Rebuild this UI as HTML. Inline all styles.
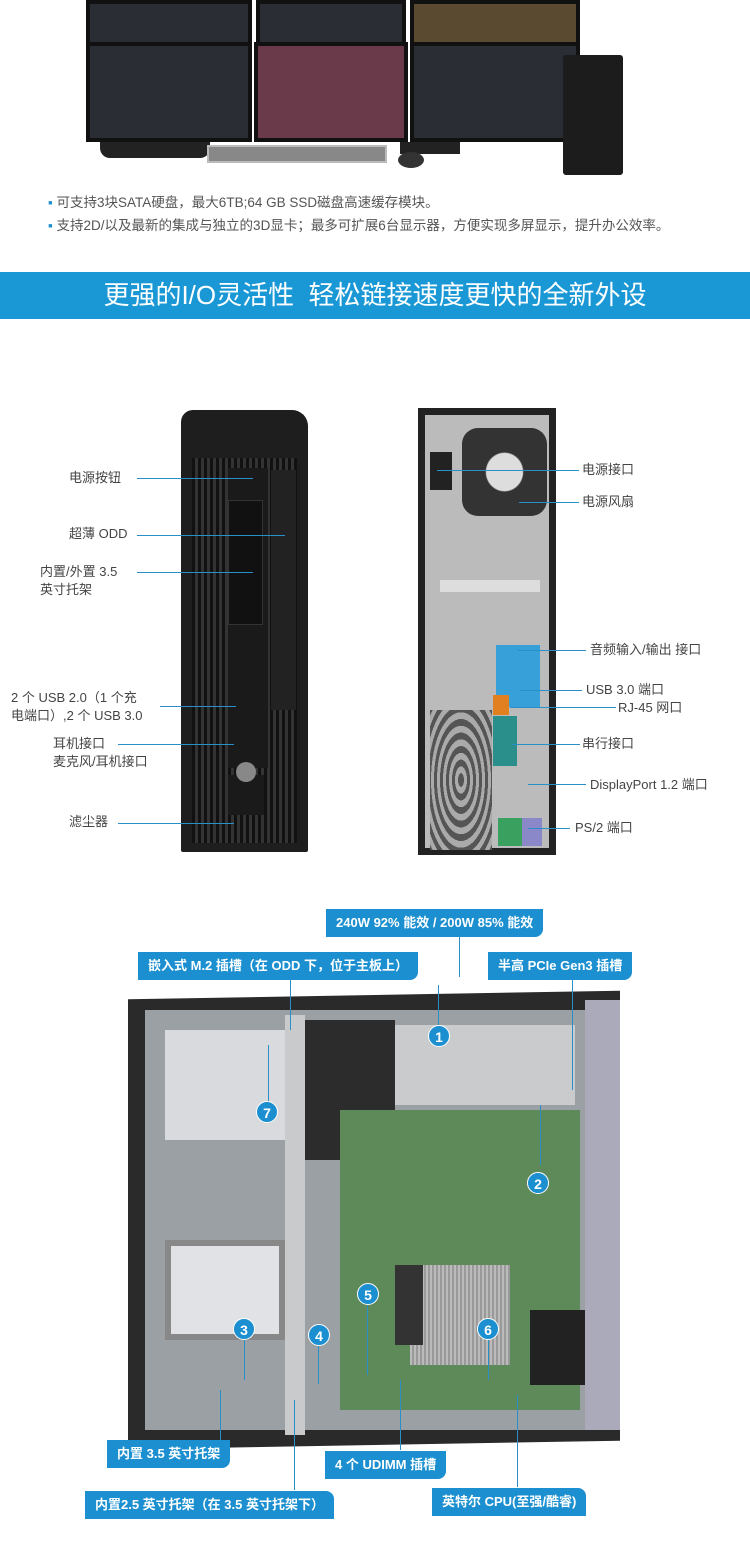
<!DOCTYPE html>
<html><head><meta charset="utf-8"><style>
*{margin:0;padding:0;box-sizing:border-box}
body{width:750px;height:1546px;background:#fff;position:relative;overflow:hidden;font-family:"Liberation Sans","Noto Sans CJK SC",sans-serif}
.a{position:absolute}
.t{position:absolute;font-size:13px;color:#444;line-height:18px;white-space:nowrap}
.l{position:absolute;height:1px;background:#2a8fc8}
.v{position:absolute;width:1px;background:#2a8fc8}
.b{position:absolute;background:#1b8fd0;color:#fff;font-size:13px;font-weight:bold;height:28px;line-height:28px;padding:0 10px;white-space:nowrap;border-radius:0 0 8px 0}
.c{position:absolute;width:22px;height:22px;border-radius:50%;background:#1b8fd0;color:#fff;font-size:14px;font-weight:bold;text-align:center;line-height:22px;border:1px solid #fff}
.scr{position:absolute;background:#2a2d33;border:4px solid #111}
</style></head><body>
<div class="scr" style="left:86px;top:0;width:166px;height:48px"></div>
<div class="scr" style="left:256px;top:0;width:150px;height:48px"></div>
<div class="scr" style="left:410px;top:0;width:170px;height:48px;background:#5a4a30"></div>
<div class="scr" style="left:86px;top:42px;width:166px;height:100px"></div>
<div class="scr" style="left:254px;top:42px;width:154px;height:100px;background:#6a3a4a"></div>
<div class="scr" style="left:410px;top:42px;width:170px;height:100px"></div>
<div class="a" style="left:100px;top:142px;width:110px;height:16px;background:#222;border-radius:0 0 10px 10px"></div>
<div class="a" style="left:400px;top:142px;width:60px;height:12px;background:#222"></div>
<div class="a" style="left:207px;top:145px;width:180px;height:18px;background:#888;border:2px solid #bbb"></div>
<div class="a" style="left:398px;top:152px;width:26px;height:16px;background:#333;border-radius:50%"></div>
<div class="a" style="left:563px;top:55px;width:60px;height:120px;background:#1c1c1c;border-radius:3px"></div>
<div class="t" style="left:48px;top:194px;font-size:13.5px;color:#555"><span style="color:#1b8fd0">▪</span> 可支持3块SATA硬盘，最大6TB;64 GB SSD磁盘高速缓存模块。</div>
<div class="t" style="left:48px;top:217px;font-size:13.5px;color:#555"><span style="color:#1b8fd0">▪</span> 支持2D/以及最新的集成与独立的3D显卡；最多可扩展6台显示器，方便实现多屏显示，提升办公效率。</div>
<div class="a" style="left:0;top:272px;width:750px;height:47px;background:#1a98d5;color:#fff;font-size:26px;text-align:center;line-height:47px">更强的I/O灵活性&nbsp;&nbsp;轻松链接速度更快的全新外设</div>

<div class="a" style="left:181px;top:410px;width:127px;height:442px;background:#1e1e1e;border-radius:12px 16px 2px 2px"></div>
<div class="a" style="left:192px;top:458px;width:105px;height:385px;background:repeating-linear-gradient(90deg,#111 0 3px,#333 3px 6px)"></div>
<div class="a" style="left:228px;top:468px;width:40px;height:300px;background:#1a1a1a"></div>
<div class="a" style="left:228px;top:500px;width:35px;height:125px;background:#111;border:1px solid #333"></div>
<div class="a" style="left:271px;top:470px;width:25px;height:240px;background:#222"></div>
<div class="a" style="left:228px;top:775px;width:36px;height:40px;background:#1a1a1a"></div>
<div class="a" style="left:236px;top:762px;width:20px;height:20px;border-radius:50%;background:#888"></div>
<div class="t" style="left:69px;top:469px">电源按钮</div><div class="l" style="left:137px;top:478px;width:116px"></div>
<div class="t" style="left:69px;top:525px">超薄 ODD</div><div class="l" style="left:137px;top:535px;width:148px"></div>
<div class="t" style="left:40px;top:563px">内置/外置 3.5<br>英寸托架</div><div class="l" style="left:137px;top:572px;width:116px"></div>
<div class="t" style="left:11px;top:689px">2 个 USB 2.0（1 个充<br>电端口）,2 个 USB 3.0</div><div class="l" style="left:160px;top:706px;width:76px"></div>
<div class="t" style="left:53px;top:735px">耳机接口<br>麦克风/耳机接口</div><div class="l" style="left:118px;top:744px;width:116px"></div>
<div class="t" style="left:69px;top:813px">滤尘器</div><div class="l" style="left:118px;top:823px;width:116px"></div>

<div class="a" style="left:418px;top:408px;width:138px;height:447px;background:#222"></div>
<div class="a" style="left:425px;top:415px;width:124px;height:433px;background:#bbb"></div>
<div class="a" style="left:462px;top:428px;width:85px;height:88px;border-radius:16px;background:radial-gradient(#ddd 30%,#333 32%)"></div>
<div class="a" style="left:430px;top:452px;width:22px;height:38px;background:#222"></div>
<div class="a" style="left:440px;top:580px;width:100px;height:12px;background:#ddd"></div>
<div class="a" style="left:496px;top:645px;width:44px;height:62px;background:#38a0d8"></div>
<div class="a" style="left:493px;top:695px;width:16px;height:20px;background:#e08020"></div>
<div class="a" style="left:493px;top:716px;width:24px;height:50px;background:#2a8f8a"></div>
<div class="a" style="left:430px;top:710px;width:62px;height:140px;background:repeating-radial-gradient(#555 0 3px,#aaa 3px 6px)"></div>
<div class="a" style="left:498px;top:818px;width:24px;height:28px;background:#3aa060"></div>
<div class="a" style="left:522px;top:818px;width:20px;height:28px;background:#8a88c8"></div>
<div class="l" style="left:437px;top:470px;width:142px"></div><div class="t" style="left:582px;top:461px">电源接口</div>
<div class="l" style="left:519px;top:502px;width:60px"></div><div class="t" style="left:582px;top:493px">电源风扇</div>
<div class="l" style="left:518px;top:650px;width:68px"></div><div class="t" style="left:590px;top:641px">音频输入/输出 接口</div>
<div class="l" style="left:520px;top:690px;width:62px"></div><div class="t" style="left:586px;top:681px">USB 3.0 端口</div>
<div class="l" style="left:510px;top:707px;width:106px"></div><div class="t" style="left:618px;top:699px">RJ-45 网口</div>
<div class="l" style="left:512px;top:744px;width:68px"></div><div class="t" style="left:582px;top:735px">串行接口</div>
<div class="l" style="left:528px;top:784px;width:58px"></div><div class="t" style="left:590px;top:776px">DisplayPort 1.2 端口</div>
<div class="l" style="left:528px;top:828px;width:42px"></div><div class="t" style="left:575px;top:819px">PS/2 端口</div>

<div class="a" style="left:128px;top:995px;width:492px;height:450px;background:#2a2a2a;transform:skewY(-1deg)"></div>
<div class="a" style="left:145px;top:1010px;width:470px;height:420px;background:#9aa0a4"></div>
<div class="a" style="left:165px;top:1030px;width:120px;height:110px;background:#d8dadd"></div>
<div class="a" style="left:165px;top:1240px;width:120px;height:100px;background:#e0e2e5;border:6px solid #888"></div>
<div class="a" style="left:285px;top:1015px;width:20px;height:420px;background:#c8cacc"></div>
<div class="a" style="left:305px;top:1020px;width:90px;height:140px;background:#2c2c2c"></div>
<div class="a" style="left:395px;top:1025px;width:180px;height:80px;background:#c9cbcd"></div>
<div class="a" style="left:340px;top:1110px;width:240px;height:300px;background:#5e8a5a"></div>
<div class="a" style="left:410px;top:1265px;width:100px;height:100px;background:repeating-linear-gradient(90deg,#bbb 0 2px,#999 2px 4px)"></div>
<div class="a" style="left:395px;top:1265px;width:28px;height:80px;background:#333"></div>
<div class="a" style="left:530px;top:1310px;width:55px;height:75px;background:#222"></div>
<div class="a" style="left:585px;top:1000px;width:35px;height:430px;background:#aab"></div>

<div class="b" style="left:326px;top:909px">240W 92% 能效 / 200W 85% 能效</div>
<div class="b" style="left:138px;top:952px">嵌入式 M.2 插槽（在 ODD 下，位于主板上）</div>
<div class="b" style="left:488px;top:952px">半高 PCIe Gen3 插槽</div>
<div class="b" style="left:107px;top:1440px">内置 3.5 英寸托架</div>
<div class="b" style="left:325px;top:1451px">4 个 UDIMM 插槽</div>
<div class="b" style="left:85px;top:1491px;border-radius:0 8px 0 0">内置2.5 英寸托架（在 3.5 英寸托架下）</div>
<div class="b" style="left:432px;top:1488px;border-radius:0 8px 0 0">英特尔 CPU(至强/酷睿)</div>

<div class="v" style="left:459px;top:937px;height:40px"></div><div class="v" style="left:438px;top:985px;height:40px"></div>
<div class="v" style="left:290px;top:980px;height:50px"></div><div class="v" style="left:268px;top:1045px;height:58px"></div>
<div class="v" style="left:572px;top:980px;height:110px"></div><div class="v" style="left:540px;top:1105px;height:60px"></div>
<div class="v" style="left:244px;top:1340px;height:40px"></div><div class="v" style="left:220px;top:1390px;height:50px"></div>
<div class="v" style="left:318px;top:1344px;height:40px"></div><div class="v" style="left:294px;top:1400px;height:90px"></div>
<div class="v" style="left:367px;top:1305px;height:70px"></div><div class="v" style="left:400px;top:1380px;height:70px"></div>
<div class="v" style="left:488px;top:1340px;height:40px"></div><div class="v" style="left:517px;top:1395px;height:92px"></div>

<div class="c" style="left:428px;top:1025px">1</div>
<div class="c" style="left:527px;top:1172px">2</div>
<div class="c" style="left:233px;top:1318px">3</div>
<div class="c" style="left:308px;top:1324px">4</div>
<div class="c" style="left:357px;top:1283px">5</div>
<div class="c" style="left:477px;top:1318px">6</div>
<div class="c" style="left:256px;top:1101px">7</div>
</body></html>
